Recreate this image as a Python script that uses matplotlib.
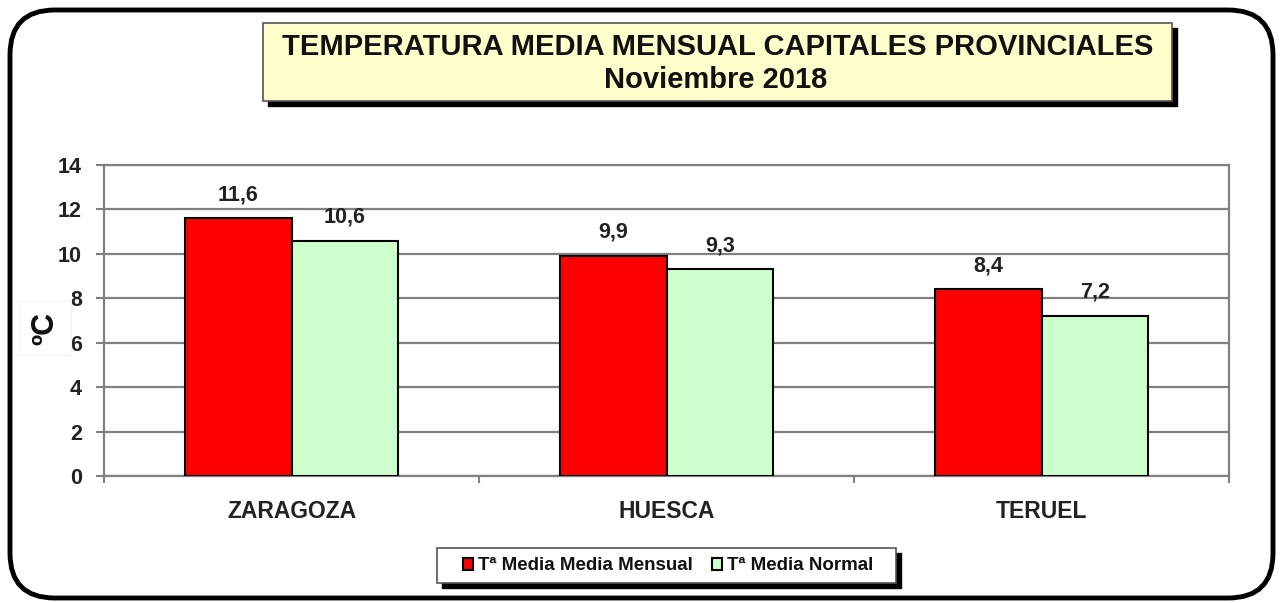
import matplotlib
matplotlib.use("Agg")
import matplotlib.pyplot as plt
from matplotlib.patches import FancyBboxPatch, Rectangle, Patch
import numpy as np

plt.rcParams['font.family'] = ['Liberation Sans', 'DejaVu Sans']

categories = ["ZARAGOZA", "HUESCA", "TERUEL"]
mensual = [11.6, 9.9, 8.4]
normal = [10.6, 9.3, 7.2]
series_names = ["Tª Media Media Mensual", "Tª Media Normal"]
yticks = [0, 2, 4, 6, 8, 10, 12, 14]

W, H = 1280, 603
fig = plt.figure(figsize=(W / 100, H / 100), dpi=100)
fig.patch.set_facecolor("white")

def fx(px):
    return px / W

def fy(py):
    return 1 - py / H

# outer rounded frame
frame = FancyBboxPatch((fx(10), fy(598)), fx(1263), (588) / H,
                       boxstyle="round,pad=0,rounding_size=0.035",
                       transform=fig.transFigure, fill=False,
                       edgecolor="black", linewidth=3.5,
                       mutation_aspect=W / H)
fig.patches.append(frame)

# axes
ax = fig.add_axes([fx(104), fy(476), fx(1229) - fx(104), (476 - 165) / H])
x = np.arange(len(categories))
bw = 0.285
ax.bar(x - bw / 2, mensual, bw, color="#FF0000", edgecolor="black",
       linewidth=1.5, zorder=3, label=series_names[0])
ax.bar(x + bw / 2, normal, bw, color="#CCFFCC", edgecolor="black",
       linewidth=1.5, zorder=3, label=series_names[1])

for xs, vals in ((x - bw / 2, mensual), (x + bw / 2, normal)):
    for xi, v in zip(xs, vals):
        ax.annotate(f"{v:.1f}".replace(".", ","), (xi, v), xytext=(0, 17),
                    textcoords="offset points", ha="center", va="center",
                    fontsize=15.5, fontweight="bold", color="#222222")

ax.set_xlim(-0.5, len(categories) - 0.5)
ax.set_ylim(0, 14)
ax.set_yticks(yticks)
ax.set_yticklabels([str(t) for t in yticks], fontsize=15.5,
                   fontweight="bold", color="#222222")
ax.yaxis.grid(True, color="#808080", linewidth=1.6, zorder=0)
ax.set_axisbelow(True)
ax.tick_params(axis="y", length=6, width=1.5, color="#808080", pad=10)
ax.set_xticks(x)
ax.set_xticklabels(categories, fontsize=16.5, fontweight="bold",
                   color="#222222")
ax.tick_params(axis="x", length=0, pad=17)
ax.set_xticks(np.arange(-0.5, len(categories)), minor=True)
ax.tick_params(axis="x", which="minor", length=5, width=1.5, color="#808080")
for s in ax.spines.values():
    s.set_color("#808080")
    s.set_linewidth(1.6)

fig.text(fx(45), fy(328), "ºC", rotation=90, ha="center", va="center",
         fontsize=22, fontweight="bold", color="#111111",
         bbox=dict(facecolor="white", edgecolor="#f2f2f2", linewidth=0.8,
                   boxstyle="square,pad=0.35"))

# title box with shadow
fig.patches.append(Rectangle((fx(268), fy(106)), fx(1177) - fx(268),
                             (106 - 28) / H, transform=fig.transFigure,
                             facecolor="black", edgecolor="black"))
fig.patches.append(Rectangle((fx(263), fy(101)), fx(1172) - fx(263),
                             (101 - 23) / H, transform=fig.transFigure,
                             facecolor="#FFFFCC", edgecolor="#555555",
                             linewidth=1.2))
fig.text(fx(718), fy(47), "TEMPERATURA MEDIA MENSUAL CAPITALES PROVINCIALES",
         ha="center", va="center", fontsize=21, fontweight="bold",
         color="#111111")
fig.text(fx(716), fy(80), "Noviembre 2018", ha="center", va="center",
         fontsize=21, fontweight="bold", color="#111111")

# legend box with shadow
fig.patches.append(Rectangle((fx(442), fy(588)), fx(901) - fx(442),
                             (588 - 553) / H, transform=fig.transFigure,
                             facecolor="black", edgecolor="black"))
fig.patches.append(Rectangle((fx(437), fy(583)), fx(896) - fx(437),
                             (583 - 548) / H, transform=fig.transFigure,
                             facecolor="white", edgecolor="#555555",
                             linewidth=1.2))
handles = [Patch(facecolor="#FF0000", edgecolor="black", linewidth=1.5),
           Patch(facecolor="#CCFFCC", edgecolor="black", linewidth=1.5)]
leg = fig.legend(handles, series_names, loc="center",
                 bbox_to_anchor=(fx(668), fy(566)), ncol=2, frameon=False,
                 prop={"size": 13.5, "weight": "bold"},
                 handlelength=0.55, handleheight=0.55, handletextpad=0.25,
                 columnspacing=1.0, borderpad=0.3)
for t in leg.get_texts():
    t.set_color("#111111")

fig.savefig("out.png", dpi=100)
